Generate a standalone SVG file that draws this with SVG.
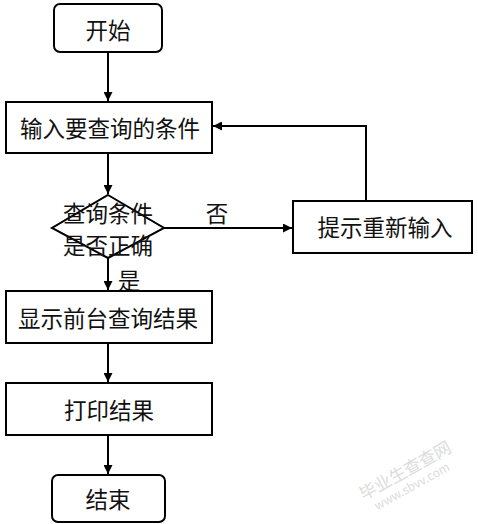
<svg xmlns="http://www.w3.org/2000/svg" width="478" height="524" viewBox="0 0 478 524">
<style>
.box{fill:#fff;stroke:#000;stroke-width:2}
.t{font-family:"Noto Sans CJK SC","Liberation Serif",serif;font-size:22.5px;fill:#111;text-anchor:middle;dominant-baseline:central}
.c{fill:none;stroke:#000;stroke-width:2}
.wm{font-family:"Noto Sans CJK SC",sans-serif;fill:#dcdcdc;text-anchor:middle}
</style>
<defs>
<marker id="ah" viewBox="0 0 10 10" refX="10" refY="5" markerWidth="5" markerHeight="4.5" orient="auto" markerUnits="strokeWidth">
<path d="M0,0 L10,5 L0,10 z" fill="#000"/>
</marker>
</defs>
<rect width="478" height="524" fill="#fff"/>
<g id="connectors">
<path class="c" d="M108,52 V101" marker-end="url(#ah)"/>
<path class="c" d="M108,153 V194" marker-end="url(#ah)"/>
<path class="c" d="M164,228 H292" marker-end="url(#ah)"/>
<path class="c" d="M366,200 V126 H213" marker-end="url(#ah)"/>
<path class="c" d="M108,258 V290" marker-end="url(#ah)"/>
<path class="c" d="M108,343 V382" marker-end="url(#ah)"/>
<path class="c" d="M108,435 V474" marker-end="url(#ah)"/>
<text class="t" x="217" y="212">否</text>
<text class="t" x="129" y="279">是</text>
</g>
<g id="start">
<rect class="box" x="54" y="4" width="108" height="48" rx="6"/>
<text class="t" x="108" y="29">开始</text>
</g>
<g id="input">
<rect class="box" x="6" y="102" width="206" height="51"/>
<text class="t" x="110" y="127">输入要查询的条件</text>
</g>
<g id="decision">
<path class="box" d="M108,195 L164,228 L108,258 L52,228 Z"/>
<text class="t" x="108" y="212">查询条件</text>
<text class="t" x="108" y="244">是否正确</text>
</g>
<g id="hint">
<rect class="box" x="293" y="201" width="179" height="52"/>
<text class="t" x="385" y="226">提示重新输入</text>
</g>
<g id="display">
<rect class="box" x="6" y="291" width="206" height="52"/>
<text class="t" x="108" y="317">显示前台查询结果</text>
</g>
<g id="print">
<rect class="box" x="6" y="383" width="206" height="52"/>
<text class="t" x="109" y="409">打印结果</text>
</g>
<g id="end">
<rect class="box" x="52" y="475" width="113" height="47" rx="6"/>
<text class="t" x="108" y="498">结束</text>
</g>
<g id="watermark">
<text class="wm" font-size="17" transform="translate(408,476) rotate(-29)">毕业生查查网</text>
<text class="wm" font-size="12" transform="translate(414,490) rotate(-29)">www.sbvv.com</text>
</g>
</svg>
